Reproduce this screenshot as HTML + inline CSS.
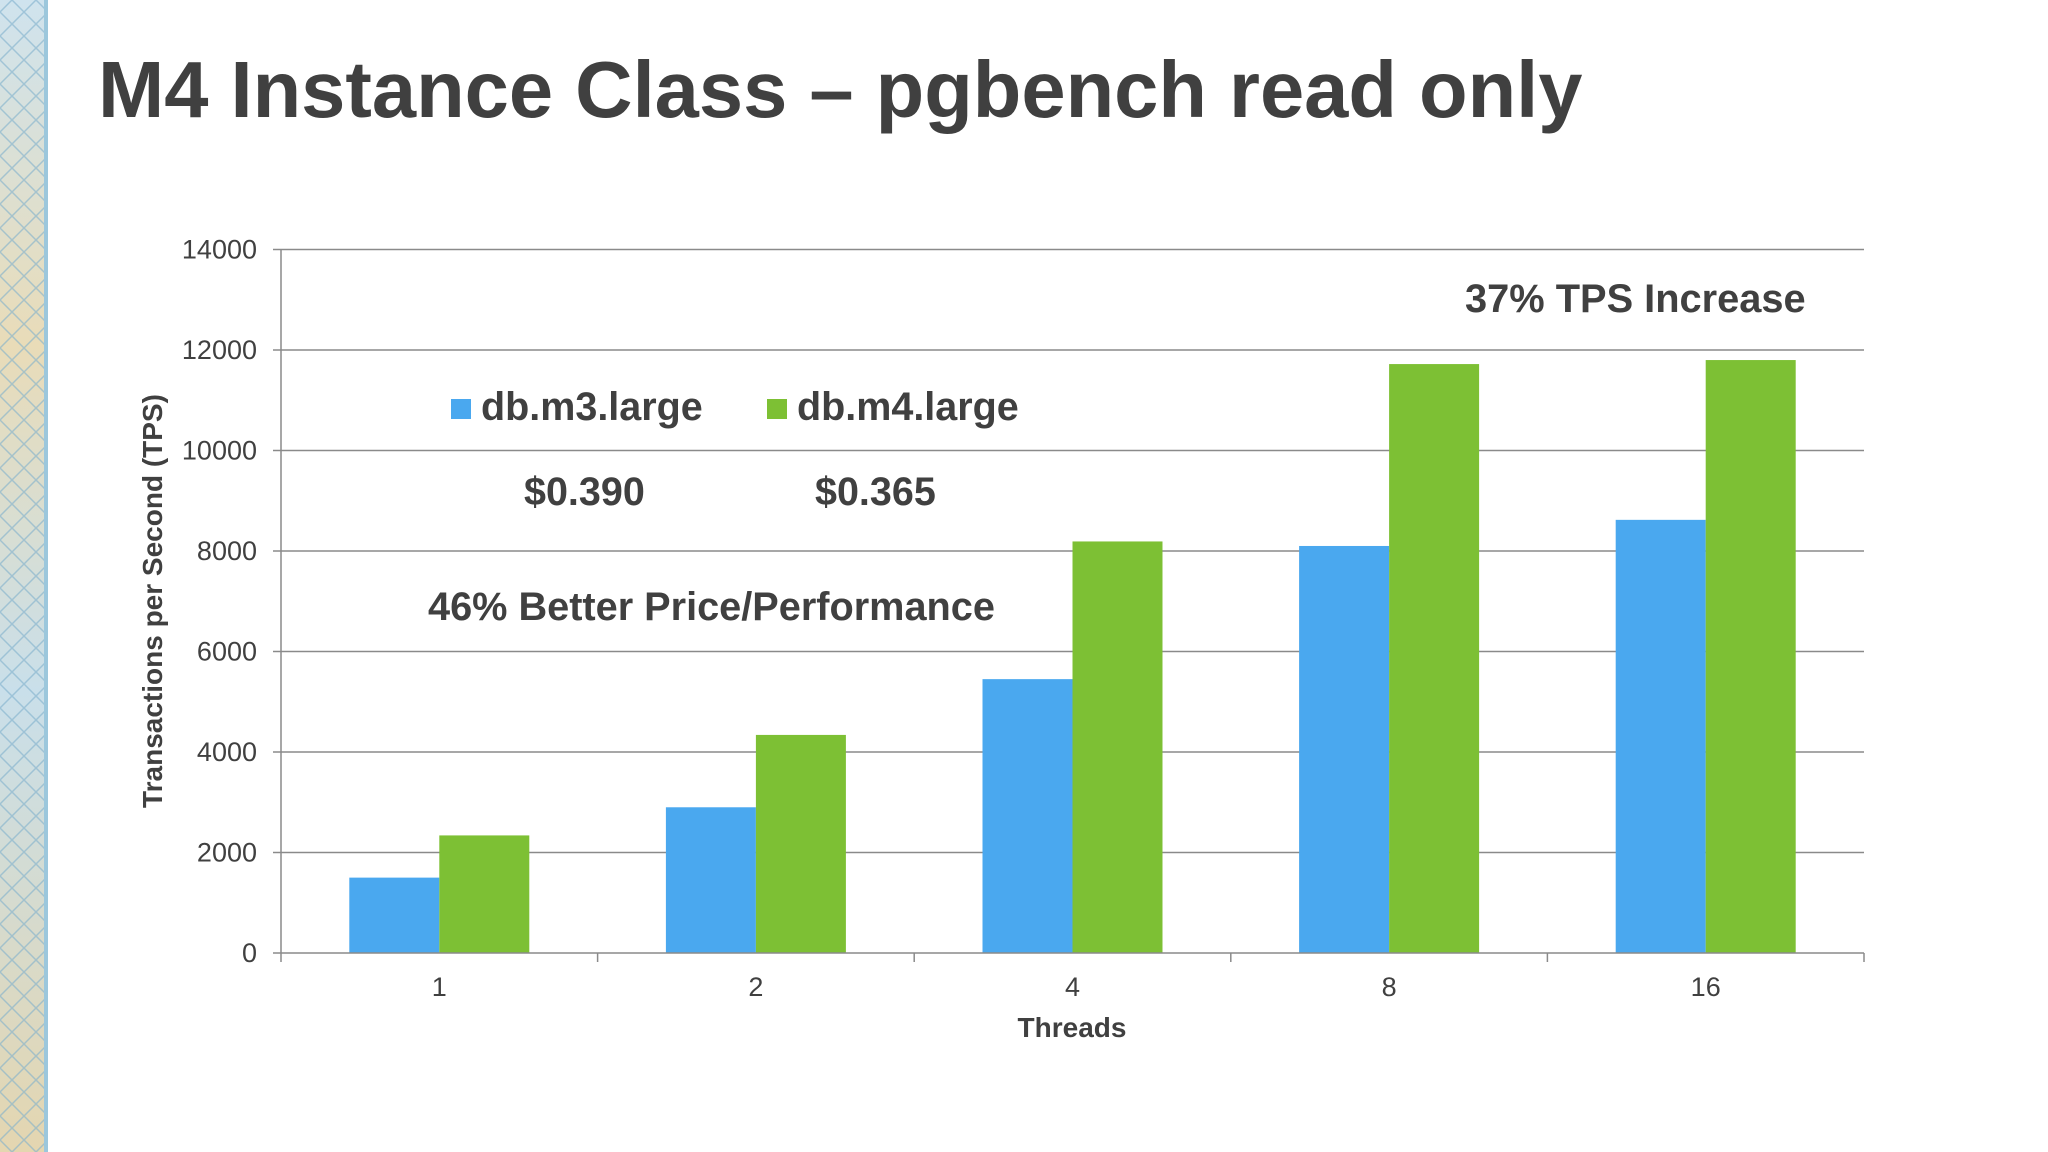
<!DOCTYPE html>
<html><head><meta charset="utf-8"><style>
html,body{margin:0;padding:0;background:#fff;}
svg{display:block;font-family:"Liberation Sans",Arial,sans-serif;}
</style></head><body>
<svg id="chart" width="2048" height="1152" viewBox="0 0 2048 1152">
<defs>
<linearGradient id="strip" x1="0" y1="0" x2="0" y2="1">
<stop offset="0" stop-color="#cfe3ee"/><stop offset="0.3" stop-color="#e9dcb8"/><stop offset="0.6" stop-color="#c9dfea"/><stop offset="1" stop-color="#e4d6b0"/>
</linearGradient>
<pattern id="pat" width="24" height="24" patternUnits="userSpaceOnUse">
<path d="M0 12 L12 0 L24 12 L12 24 Z" fill="none" stroke="#7fb0cc" stroke-width="1.5"/>
</pattern>
</defs>
<g>
<rect x="0" y="0" width="46" height="1152" fill="url(#strip)"/>
<rect x="0" y="0" width="46" height="1152" fill="url(#pat)" opacity="0.6"/>
<rect x="44" y="0" width="4" height="1152" fill="#9cc7dc"/>
</g>
<text x="98" y="117" font-size="79.5" font-weight="bold" fill="#404040">M4 Instance Class – pgbench read only</text>
<g id="grid"></g>
<g id="bars"></g>
<g id="axes"></g>
<text transform="translate(162,601) rotate(-90)" text-anchor="middle" font-size="28" font-weight="bold" fill="#404040">Transactions per Second (TPS)</text>
<text x="1072" y="1037" text-anchor="middle" font-size="28" font-weight="bold" fill="#404040">Threads</text>
<g>
<rect x="451" y="399" width="20" height="20" fill="#4aa8ef"/>
<text x="481" y="420" font-size="39.5" font-weight="bold" fill="#404040">db.m3.large</text>
<rect x="767" y="399" width="20" height="20" fill="#7dc034"/>
<text x="797" y="420" font-size="39.5" font-weight="bold" fill="#404040">db.m4.large</text>
</g>
<text x="524" y="505" font-size="39.5" font-weight="bold" fill="#404040">$0.390</text>
<text x="815" y="505" font-size="39.5" font-weight="bold" fill="#404040">$0.365</text>
<text x="428" y="620" font-size="39.7" font-weight="bold" fill="#404040">46% Better Price/Performance</text>
<text x="1465" y="312" font-size="39.8" font-weight="bold" fill="#404040">37% TPS Increase</text>
</svg>
<script>
const categories = ["1","2","4","8","16"];
const m3Values = [1500, 2900, 5450, 8100, 8620];
const m4Values = [2340, 4340, 8190, 11720, 11800];
const yTicks = [0,2000,4000,6000,8000,10000,12000,14000];

const NS="http://www.w3.org/2000/svg";
const X0=281, X1=1864, Y0=953, Y1=249.5, YMAX=14000;
const y = v => Y0 - (v/YMAX)*(Y0-Y1);
const band = (X1-X0)/categories.length;
const xc = i => X0 + band*(i+0.5);
const BW = 90;
function mk(tag, attrs, parent){const e=document.createElementNS(NS,tag);for(const k in attrs)e.setAttribute(k,attrs[k]);parent.appendChild(e);return e;}
const grid=document.getElementById('grid'), bars=document.getElementById('bars'), axes=document.getElementById('axes');
yTicks.forEach(t=>{
  if(t>0){const l=mk('line',{x1:X0,x2:X1,y1:y(t),y2:y(t),stroke:'#8a8a8a','stroke-width':1.5},grid);
  
  }
  const tk=mk('line',{x1:X0-8,x2:X0,y1:y(t),y2:y(t),stroke:'#8a8a8a','stroke-width':1.5},axes);
  
  
  const tx=mk('text',{x:257,y:y(t)+9,'text-anchor':'end','font-size':27,fill:'#404040'},axes);
  tx.textContent=t;
  
  
});
const ya=mk('line',{x1:X0,x2:X0,y1:Y1,y2:Y0,stroke:'#8a8a8a','stroke-width':1.5},axes);


const xa=mk('line',{x1:X0,x2:X1,y1:Y0,y2:Y0,stroke:'#8a8a8a','stroke-width':1.5},axes);


for(let i=0;i<=categories.length;i++){
  const tk=mk('line',{x1:X0+band*i,x2:X0+band*i,y1:Y0,y2:Y0+9,stroke:'#8a8a8a','stroke-width':1.5},axes);
  
  
}
categories.forEach((c,i)=>{
  const b1=mk('rect',{x:xc(i)-BW,y:y(m3Values[i]),width:BW,height:Y0-y(m3Values[i]),fill:'#4aa8ef'},bars);
  
  
  const b2=mk('rect',{x:xc(i),y:y(m4Values[i]),width:BW,height:Y0-y(m4Values[i]),fill:'#7dc034'},bars);
  
  
  const tx=mk('text',{x:xc(i),y:996,'text-anchor':'middle','font-size':27,fill:'#404040'},axes);
  tx.textContent=c;
  
  
});
</script>
</body></html>
